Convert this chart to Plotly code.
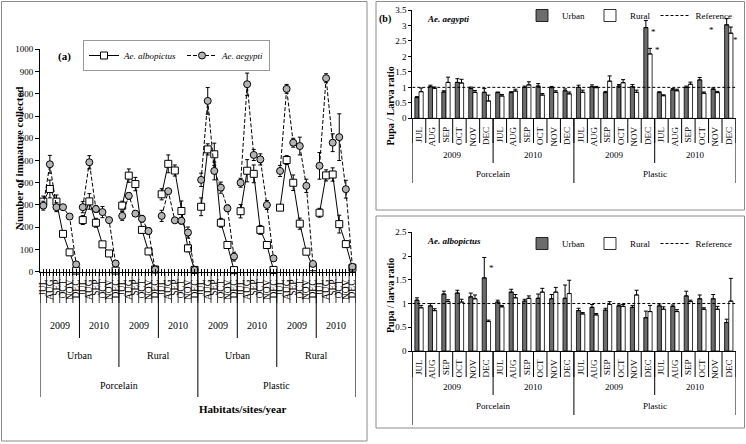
import plotly.graph_objects as go

# ---------------- data ----------------
months = ["JUL", "AUG", "SEP", "OCT", "NOV", "DEC"]
years = ["2009", "2010"]
sites = ["Urban", "Rural"]
habitats = ["Porcelain", "Plastic"]

# Panel (a): order = habitat > site > year > month (8 groups x 6 months)
albopictus_counts = [315, 372, 315, 170, 87, 5,
                     232, 316, 220, 123, 82, 5,
                     297, 432, 394, 188, 91, 10,
                     348, 485, 455, 273, 105, 8,
                     292, 550, 528, 220, 120, 7,
                     272, 454, 440, 188, 120, 8,
                     288, 502, 400, 216, 90, 20,
                     265, 433, 437, 214, 124, 18]
albopictus_err = [25, 40, 30, 12, 12, 5,
                  20, 35, 20, 12, 12, 5,
                  20, 30, 30, 15, 12, 5,
                  25, 40, 25, 45, 15, 5,
                  40, 25, 50, 20, 10, 5,
                  30, 50, 40, 20, 10, 5,
                  10, 20, 35, 25, 10, 5,
                  20, 25, 30, 40, 15, 5]
aegypti_counts = [297, 483, 290, 290, 248, 33,
                  290, 492, 282, 268, 232, 37,
                  251, 341, 261, 238, 183, 10,
                  251, 362, 231, 229, 176, 8,
                  413, 768, 453, 378, 285, 68,
                  400, 843, 525, 505, 300, 60,
                  453, 822, 580, 565, 386, 35,
                  476, 870, 580, 605, 371, 22]
aegypti_err = [20, 40, 20, 12, 12, 10,
               25, 30, 15, 25, 12, 10,
               20, 15, 12, 15, 15, 5,
               25, 12, 10, 15, 25, 5,
               30, 60, 40, 25, 15, 20,
               20, 50, 25, 25, 20, 10,
               25, 20, 20, 40, 30, 10,
               60, 20, 40, 105, 40, 5]

# Panel (b): order = habitat > year > month (4 groups x 6 months)
aeg_ratio_urban = [0.67, 1.02, 0.85, 1.16, 0.96, 0.84,
                   0.83, 0.83, 1.00, 1.04, 0.99, 0.89,
                   1.00, 1.02, 0.83, 1.04, 1.02, 2.93,
                   0.83, 0.92, 1.00, 1.24, 0.94, 3.02]
aeg_ratio_urban_err = [0.03, 0.05, 0.04, 0.12, 0.05, 0.12,
                       0.02, 0.03, 0.04, 0.08, 0.04, 0.06,
                       0.07, 0.06, 0.04, 0.05, 0.07, 0.23,
                       0.03, 0.04, 0.04, 0.08, 0.04, 0.20]
aeg_ratio_rural = [0.86, 0.97, 1.16, 1.14, 0.84, 0.56,
                   0.72, 0.88, 1.08, 0.75, 0.84, 0.79,
                   0.84, 0.99, 1.20, 1.15, 0.84, 2.08,
                   0.73, 0.89, 1.10, 0.81, 0.83, 2.75]
aeg_ratio_rural_err = [0.12, 0.04, 0.17, 0.12, 0.06, 0.19,
                       0.05, 0.06, 0.10, 0.05, 0.05, 0.06,
                       0.07, 0.04, 0.17, 0.10, 0.07, 0.18,
                       0.03, 0.05, 0.07, 0.04, 0.04, 0.20]

alb_ratio_urban = [1.07, 0.95, 1.20, 1.22, 1.14, 1.54,
                   1.03, 1.24, 1.05, 1.11, 1.10, 1.11,
                   0.85, 0.92, 0.86, 0.95, 0.92, 0.70,
                   0.95, 0.94, 1.16, 1.10, 1.10, 0.60]
alb_ratio_urban_err = [0.05, 0.05, 0.06, 0.06, 0.08, 0.43,
                       0.04, 0.06, 0.04, 0.09, 0.09, 0.28,
                       0.05, 0.06, 0.04, 0.02, 0.04, 0.14,
                       0.04, 0.03, 0.10, 0.08, 0.09, 0.07]
alb_ratio_rural = [0.91, 0.85, 1.04, 1.03, 1.10, 0.62,
                   0.93, 1.12, 1.11, 1.24, 1.24, 1.21,
                   0.78, 0.76, 0.98, 0.94, 1.18, 0.83,
                   0.88, 0.83, 1.04, 0.88, 0.88, 1.05]
alb_ratio_rural_err = [0.05, 0.04, 0.04, 0.06, 0.08, 0.03,
                       0.03, 0.07, 0.05, 0.08, 0.10, 0.28,
                       0.03, 0.03, 0.06, 0.04, 0.10, 0.13,
                       0.05, 0.04, 0.03, 0.03, 0.06, 0.48]

reference_ratio = 1.0

# significance asterisks (category position, ratio level)
aeg_signif = [(17.4, 2.80), (17.7, 2.21), (21.7, 2.86), (23.5, 2.53)]
alb_signif = [(5.4, 1.75)]

# ---------------- helpers ----------------
W, H = 746, 444
FONT = "Liberation Serif"


def px(x):
    return x / W


def py(y):
    return 1 - y / H


n_a = len(albopictus_counts)
n_b = len(aeg_ratio_urban)
G = len(months)


def with_gaps(vals):
    out = []
    for i, v in enumerate(vals):
        out.append(v)
        if i % G == G - 1 and i != len(vals) - 1:
            out.append(None)
    return out


xa = with_gaps(list(range(n_a)))
xb = list(range(n_b))

fig = go.Figure()

# ---- panel (a) ----
fig.add_trace(go.Scatter(
    x=xa, y=with_gaps(albopictus_counts), name="<i>Ae. albopictus</i>",
    mode="lines+markers", connectgaps=False, cliponaxis=False,
    line=dict(color="black", width=1),
    marker=dict(symbol="square", size=7, color="white", line=dict(color="black", width=1)),
    error_y=dict(type="data", array=with_gaps(albopictus_err), color="black", thickness=1, width=2),
    xaxis="x", yaxis="y", legend="legend"))
fig.add_trace(go.Scatter(
    x=xa, y=with_gaps(aegypti_counts), name="<i>Ae. aegypti</i>",
    mode="lines+markers", connectgaps=False, cliponaxis=False,
    line=dict(color="black", width=1, dash="4px,2px"),
    marker=dict(symbol="circle", size=7, color="#b4b4b4", line=dict(color="black", width=1)),
    error_y=dict(type="data", array=with_gaps(aegypti_err), color="black", thickness=1, width=2),
    xaxis="x", yaxis="y", legend="legend"))
# overlay axis for the inner half of crossing ticks
fig.add_trace(go.Scatter(x=[None], y=[None], xaxis="x4", yaxis="y", showlegend=False, hoverinfo="skip"))


# ---- panel (b) ----
def add_ratio(urban, urban_err, rural, rural_err, xax, yax, leg):
    fig.add_trace(go.Bar(
        x=xb, y=urban, name="Urban", marker=dict(color="#6c6c6c", line=dict(color="black", width=0.8)),
        error_y=dict(type="data", array=urban_err, arrayminus=[0] * len(urban), symmetric=False,
                     color="black", thickness=1, width=2),
        xaxis=xax, yaxis=yax, legend=leg, offsetgroup="u"))
    fig.add_trace(go.Bar(
        x=xb, y=rural, name="Rural", marker=dict(color="white", line=dict(color="black", width=0.8)),
        error_y=dict(type="data", array=rural_err, arrayminus=[0] * len(rural), symmetric=False,
                     color="black", thickness=1, width=2),
        xaxis=xax, yaxis=yax, legend=leg, offsetgroup="r"))
    fig.add_trace(go.Scatter(
        x=[-0.5, n_b - 0.5], y=[reference_ratio, reference_ratio], name="Reference",
        mode="lines", line=dict(color="black", width=1, dash="3px,2px"), cliponaxis=False,
        xaxis=xax, yaxis=yax, legend=leg))


add_ratio(aeg_ratio_urban, aeg_ratio_urban_err, aeg_ratio_rural, aeg_ratio_rural_err, "x2", "y2", "legend2")
add_ratio(alb_ratio_urban, alb_ratio_urban_err, alb_ratio_rural, alb_ratio_rural_err, "x3", "y3", "legend3")

# ---------------- axes ----------------
tick_font = dict(family=FONT, size=9, color="black")
month_font_a = dict(family=FONT, size=9.5, color="black")
tick_font_b = dict(family=FONT, size=9, color="black")

half_pos = [i / 2 - 0.5 for i in range(2 * n_a + 1)]
half_txt = [months[int(p) % G] if float(p).is_integer() else "" for p in half_pos]

A_LEFT, A_RIGHT, A_TOP, A_BOT = 40, 355.7, 49.3, 271.7
B_LEFT, B_RIGHT = 412.3, 735.5
BT_TOP, BT_BOT = 10, 118.3
BB_TOP, BB_BOT = 232.3, 351

common = dict(showgrid=False, zeroline=False, automargin=False)

fig.update_layout(
    width=W, height=H, margin=dict(l=0, r=0, t=0, b=0, autoexpand=False),
    paper_bgcolor="white", plot_bgcolor="white",
    barmode="group", bargap=0.38, bargroupgap=0,
    font=dict(family=FONT, color="black"),
    xaxis=dict(domain=[px(A_LEFT), px(A_RIGHT)], range=[-0.5, n_a - 0.5], anchor="y",
               tickmode="array", tickvals=half_pos, ticktext=half_txt, tickangle=-90,
               ticks="outside", ticklen=3, tickcolor="black", tickfont=month_font_a,
               showline=True, linecolor="black", linewidth=1, **common),
    xaxis4=dict(overlaying="x", anchor="y", range=[-0.5, n_a - 0.5], domain=[px(A_LEFT), px(A_RIGHT)],
                tickmode="array", tickvals=half_pos, ticks="inside", ticklen=3, tickcolor="black",
                showticklabels=False, showline=False, **common),
    yaxis=dict(domain=[py(A_BOT), py(A_TOP)], range=[0, 1000], dtick=100, anchor="x",
               ticks="outside", ticklen=4, tickcolor="black", tickfont=tick_font,
               showline=True, linecolor="black", linewidth=1, **common),
    xaxis2=dict(domain=[px(B_LEFT), px(B_RIGHT)], range=[-0.5, n_b - 0.5], anchor="y2",
                tickmode="array", tickvals=xb, ticktext=[months[i % G] for i in xb], tickangle=-90,
                ticks="", tickfont=tick_font_b, ticklabelstandoff=4,
                showline=True, linecolor="black", linewidth=1, **common),
    yaxis2=dict(domain=[py(BT_BOT), py(BT_TOP)], range=[0, 3.5], dtick=0.5, anchor="x2",
                ticks="outside", ticklen=3, tickcolor="black", tickfont=tick_font_b,
                showline=True, linecolor="black", linewidth=1, **common),
    xaxis3=dict(domain=[px(B_LEFT), px(B_RIGHT)], range=[-0.5, n_b - 0.5], anchor="y3",
                tickmode="array", tickvals=xb, ticktext=[months[i % G] for i in xb], tickangle=-90,
                ticks="", tickfont=tick_font_b, ticklabelstandoff=4,
                showline=True, linecolor="black", linewidth=1, **common),
    yaxis3=dict(domain=[py(BB_BOT), py(BB_TOP)], range=[0, 2.5], dtick=0.5, anchor="x3",
                ticks="outside", ticklen=3, tickcolor="black", tickfont=tick_font_b,
                showline=True, linecolor="black", linewidth=1, **common),
    legend=dict(x=px(83), y=py(40), xanchor="left", yanchor="top", orientation="h",
                bordercolor="#999999", borderwidth=1, bgcolor="white",
                font=dict(family=FONT, size=9), itemwidth=30, tracegroupgap=0),
    legend2=dict(x=px(522), y=py(1), xanchor="left", yanchor="top", orientation="h",
                 bgcolor="rgba(0,0,0,0)", font=dict(family=FONT, size=9), itemwidth=30),
    legend3=dict(x=px(522), y=py(229), xanchor="left", yanchor="top", orientation="h",
                 bgcolor="rgba(0,0,0,0)", font=dict(family=FONT, size=9), itemwidth=30),
)

# ---------------- category-axis separators & labels ----------------
shapes = []
annotations = []


def vline(xref, x, y0, y1, color="black", width=1):
    shapes.append(dict(type="line", xref=xref, yref="paper", x0=x, x1=x, y0=py(y0), y1=py(y1),
                       line=dict(color=color, width=width)))


def label(xref, x, y, text, size=10, **kw):
    annotations.append(dict(xref=xref, yref="paper", x=x, y=py(y), text=text, showarrow=False,
                            xanchor="center", yanchor="middle",
                            font=dict(family=FONT, size=size, color="black"), **kw))


# panel (a)
for b in range(n_a + 1):
    vline("x", b - 0.5, A_BOT, 303, width=0.8)
for g in range(n_a // G):
    label("x", g * G + (G - 1) / 2, 325, years[g % 2])
    if g % 2 == 1:
        vline("x", g * G - 0.5, A_BOT, 338)
for s in range(n_a // (2 * G)):
    label("x", s * 2 * G + (2 * G - 1) / 2, 355, sites[s % 2])
    if s % 2 == 1:
        vline("x", s * 2 * G - 0.5, A_BOT, 367)
for h in range(len(habitats)):
    label("x", h * 4 * G + (4 * G - 1) / 2, 385, habitats[h])
for h in range(len(habitats) + 1):
    vline("x", h * 4 * G - 0.5, A_BOT, 397)
annotations.append(dict(xref="paper", yref="paper", x=px(197), y=py(417), text="<b>Habitats/sites/year</b>",
                        showarrow=False, font=dict(family=FONT, size=11, color="black")))
annotations.append(dict(xref="paper", yref="paper", x=px(11), y=py(159), textangle=-90,
                        text="<b>Number of immature collected</b>", showarrow=False,
                        font=dict(family=FONT, size=11, color="black")))
annotations.append(dict(xref="paper", yref="paper", x=px(56), y=py(48), text="<b>(a)</b>",
                        showarrow=False, font=dict(family=FONT, size=11, color="black")))


# panel (b)
def b_axis(xref, axis_y, month_y, year_y, hab_end, left_end):
    for b in range(n_b + 1):
        vline(xref, b - 0.5, axis_y, month_y)
    for g in range(n_b // G):
        label(xref, g * G + (G - 1) / 2, year_y - 8, years[g % 2], size=9)
        if g % 2 == 1:
            vline(xref, g * G - 0.5, axis_y, year_y)
    for h in range(len(habitats)):
        label(xref, h * 2 * G + (2 * G - 1) / 2, hab_end - 9, habitats[h], size=9)
    for h in range(len(habitats) + 1):
        vline(xref, h * 2 * G - 0.5, axis_y, left_end if h == 0 else hab_end)


b_axis("x2", BT_BOT, 143, 163, 183, 183)
b_axis("x3", BB_BOT, 377, 395, 415, 425)

for xval, yval in aeg_signif:
    annotations.append(dict(xref="x2", yref="y2", x=xval, y=yval, text="*", showarrow=False,
                            font=dict(family=FONT, size=9, color="black")))
for xval, yval in alb_signif:
    annotations.append(dict(xref="x3", yref="y3", x=xval, y=yval, text="*", showarrow=False,
                            font=dict(family=FONT, size=9, color="black")))

annotations += [
    dict(xref="paper", yref="paper", x=px(385), y=py(11), text="<b>(b)</b>", showarrow=False,
         font=dict(family=FONT, size=10, color="black")),
    dict(xref="paper", yref="paper", x=px(425), y=py(12), xanchor="left", text="<b><i>Ae. aegypti</i></b>",
         showarrow=False, font=dict(family=FONT, size=9, color="black")),
    dict(xref="paper", yref="paper", x=px(425), y=py(241), xanchor="left", text="<b><i>Ae. albopictus</i></b>",
         showarrow=False, font=dict(family=FONT, size=9, color="black")),
    dict(xref="paper", yref="paper", x=px(390), y=py(65), textangle=-90, text="<b>Pupa / Larva ratio</b>",
         showarrow=False, font=dict(family=FONT, size=10, color="black")),
    dict(xref="paper", yref="paper", x=px(390), y=py(296), textangle=-90, text="<b>Pupa / larva ratio</b>",
         showarrow=False, font=dict(family=FONT, size=10, color="black")),
]

# panel frames
for (x0, y0, x1, y1) in [(1.5, 1.5, 367, 441), (376, 1.5, 744.5, 210), (376, 216, 744.5, 428)]:
    shapes.append(dict(type="rect", xref="paper", yref="paper", x0=px(x0), x1=px(x1), y0=py(y1), y1=py(y0),
                       line=dict(color="#8c8c8c", width=1), fillcolor="rgba(0,0,0,0)", layer="below"))

fig.update_layout(shapes=shapes, annotations=annotations)
fig.write_html("out.html", config={"displayModeBar": False},
               post_script="document.body.style.margin='0';document.body.style.overflow='hidden';")
